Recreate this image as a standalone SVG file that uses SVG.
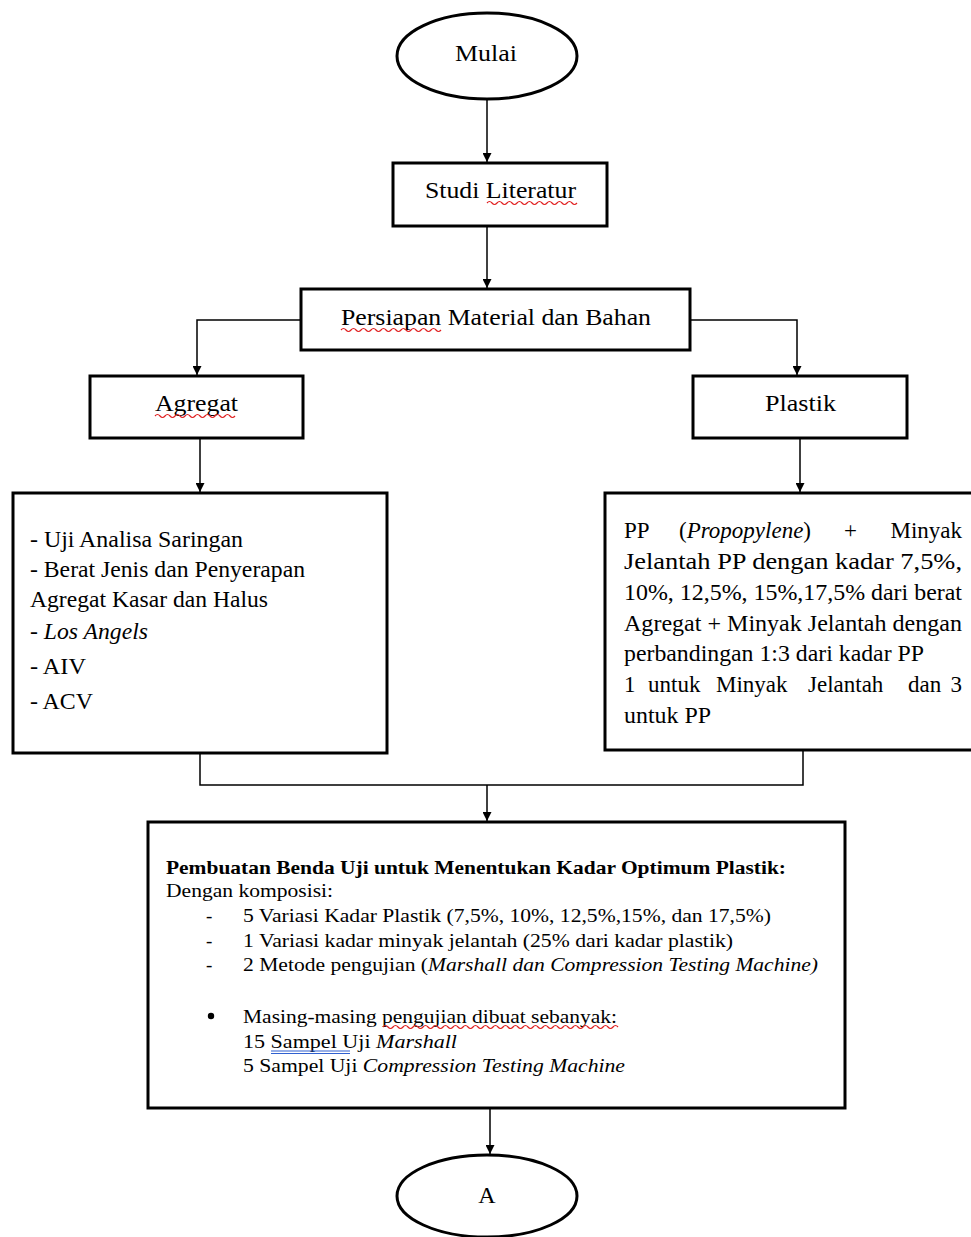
<svg xmlns="http://www.w3.org/2000/svg" width="971" height="1237" viewBox="0 0 971 1237">
<defs>
<style>
.box{fill:#fff;stroke:#000;stroke-width:3}
.ln{fill:none;stroke:#000;stroke-width:1.5}
.t{font-family:"Liberation Serif","Times New Roman","DejaVu Serif",serif;fill:#000}
.xl{font-size:24px}
.lg{font-size:23px}
.sm{font-size:19px}
.sq{fill:none;stroke:#e02020;stroke-width:1.2}
.bu{fill:none;stroke:#3060d0;stroke-width:1.2}
</style>
<marker id="ah" viewBox="0 0 10 10" refX="10" refY="5" markerWidth="9" markerHeight="9" markerUnits="userSpaceOnUse" orient="auto">
<path d="M0,0 L10,5 L0,10 z" fill="#000"/>
</marker>
</defs>
<rect width="971" height="1237" fill="#fff"/>

<g id="connectors">
<line class="ln" x1="487" y1="98" x2="487" y2="162" marker-end="url(#ah)"/>
<line class="ln" x1="487" y1="226" x2="487" y2="288" marker-end="url(#ah)"/>
<polyline class="ln" points="301,320 197,320 197,375" marker-end="url(#ah)"/>
<polyline class="ln" points="690,320 797,320 797,375" marker-end="url(#ah)"/>
<line class="ln" x1="200" y1="438" x2="200" y2="492" marker-end="url(#ah)"/>
<line class="ln" x1="800" y1="438" x2="800" y2="492" marker-end="url(#ah)"/>
<polyline class="ln" points="200,753 200,785 803,785 803,750"/>
<line class="ln" x1="487" y1="785" x2="487" y2="821" marker-end="url(#ah)"/>
<line class="ln" x1="490" y1="1108" x2="490" y2="1154" marker-end="url(#ah)"/>
</g>

<g id="mulai">
<ellipse class="box" cx="487" cy="56" rx="90" ry="43"/>
<text class="t xl" x="455" y="61" textLength="62" lengthAdjust="spacingAndGlyphs">Mulai</text>
</g>

<g id="studi">
<rect class="box" x="393" y="163" width="214" height="63"/>
<text class="t xl" x="425" y="198" textLength="151" lengthAdjust="spacingAndGlyphs">Studi Literatur</text>
<path class="sq" d="M487,203 q2.5,-3 5,0 t5,0 t5,0 t5,0 t5,0 t5,0 t5,0 t5,0 t5,0 t5,0 t5,0 t5,0 t5,0 t5,0 t5,0 t5,0 t5,0 t5,0"/>
</g>

<g id="persiapan">
<rect class="box" x="301" y="289" width="389" height="61"/>
<text class="t xl" x="341" y="325" textLength="310" lengthAdjust="spacingAndGlyphs">Persiapan Material dan Bahan</text>
<path class="sq" d="M341,330 q2.5,-3 5,0 t5,0 t5,0 t5,0 t5,0 t5,0 t5,0 t5,0 t5,0 t5,0 t5,0 t5,0 t5,0 t5,0 t5,0 t5,0 t5,0 t5,0 t5,0 t5,0"/>
</g>

<g id="agregat">
<rect class="box" x="90" y="376" width="213" height="62"/>
<text class="t xl" x="155" y="411" textLength="83" lengthAdjust="spacingAndGlyphs">Agregat</text>
<path class="sq" d="M155,416 q2.5,-3 5,0 t5,0 t5,0 t5,0 t5,0 t5,0 t5,0 t5,0 t5,0 t5,0 t5,0 t5,0 t5,0 t5,0 t5,0 t5,0"/>
</g>

<g id="plastik">
<rect class="box" x="693" y="376" width="214" height="62"/>
<text class="t xl" x="765" y="411" textLength="71" lengthAdjust="spacingAndGlyphs">Plastik</text>
</g>

<g id="uji-agregat">
<rect class="box" x="13" y="493" width="374" height="260"/>
<text class="t lg" x="30" y="547" textLength="213" lengthAdjust="spacingAndGlyphs">- Uji Analisa Saringan</text>
<text class="t lg" x="30" y="577" textLength="275" lengthAdjust="spacingAndGlyphs">- Berat Jenis dan Penyerapan</text>
<text class="t lg" x="30" y="607" textLength="238" lengthAdjust="spacingAndGlyphs">Agregat Kasar dan Halus</text>
<text class="t lg" x="30" y="639" textLength="118" lengthAdjust="spacingAndGlyphs">- <tspan font-style="italic">Los Angels</tspan></text>
<text class="t lg" x="30" y="674" textLength="56" lengthAdjust="spacingAndGlyphs">- AIV</text>
<text class="t lg" x="30" y="709" textLength="63" lengthAdjust="spacingAndGlyphs">- ACV</text>
</g>

<g id="komposisi-plastik">
<rect class="box" x="605" y="493" width="368" height="257"/>
<text class="t lg" y="538"><tspan x="624">PP</tspan><tspan x="679">(<tspan font-style="italic">Propopylene</tspan>)</tspan><tspan x="844">+</tspan><tspan x="962" text-anchor="end">Minyak</tspan></text>
<text class="t lg" x="624" y="569" textLength="338" lengthAdjust="spacingAndGlyphs">Jelantah PP dengan kadar 7,5%,</text>
<text class="t lg" x="624" y="600" textLength="338" lengthAdjust="spacingAndGlyphs">10%, 12,5%, 15%,17,5% dari berat</text>
<text class="t lg" x="624" y="631" textLength="338" lengthAdjust="spacingAndGlyphs">Agregat + Minyak Jelantah dengan</text>
<text class="t lg" x="624" y="661" textLength="300" lengthAdjust="spacingAndGlyphs">perbandingan 1:3 dari kadar PP</text>
<text class="t lg" y="692"><tspan x="624">1</tspan><tspan x="648">untuk</tspan><tspan x="716">Minyak</tspan><tspan x="808">Jelantah</tspan><tspan x="908">dan</tspan><tspan x="962" text-anchor="end">3</tspan></text>
<text class="t lg" x="624" y="723" textLength="87" lengthAdjust="spacingAndGlyphs">untuk PP</text>
</g>

<g id="pembuatan">
<rect class="box" x="148" y="822" width="697" height="286"/>
<text class="t sm" x="166" y="874" font-weight="bold" textLength="620" lengthAdjust="spacingAndGlyphs">Pembuatan Benda Uji untuk Menentukan Kadar Optimum Plastik:</text>
<text class="t sm" x="166" y="897" textLength="167" lengthAdjust="spacingAndGlyphs">Dengan komposisi:</text>
<text class="t sm" x="206" y="922">-</text>
<text class="t sm" x="243" y="922" textLength="528" lengthAdjust="spacingAndGlyphs">5 Variasi Kadar Plastik (7,5%, 10%, 12,5%,15%, dan 17,5%)</text>
<text class="t sm" x="206" y="947">-</text>
<text class="t sm" x="243" y="947" textLength="490" lengthAdjust="spacingAndGlyphs">1 Variasi kadar minyak jelantah (25% dari kadar plastik)</text>
<text class="t sm" x="206" y="971">-</text>
<text class="t sm" x="243" y="971" textLength="575" lengthAdjust="spacingAndGlyphs">2 Metode pengujian (<tspan font-style="italic">Marshall dan Compression Testing Machine)</tspan></text>
<circle cx="211" cy="1016" r="3.2" fill="#000"/>
<text class="t sm" x="243" y="1023" textLength="374" lengthAdjust="spacingAndGlyphs">Masing-masing pengujian dibuat sebanyak:</text>
<path class="sq" d="M383,1027 q2.5,-3 5,0 t5,0 t5,0 t5,0 t5,0 t5,0 t5,0 t5,0 t5,0 t5,0 t5,0 t5,0 t5,0 t5,0 t5,0 t5,0 t5,0 t5,0 t5,0 t5,0 t5,0 t5,0 t5,0 t5,0 t5,0 t5,0 t5,0 t5,0 t5,0 t5,0 t5,0 t5,0 t5,0 t5,0 t5,0 t5,0 t5,0 t5,0 t5,0 t5,0 t5,0 t5,0 t5,0 t5,0 t5,0 t5,0 t5,0"/>
<text class="t sm" x="243" y="1048" textLength="214" lengthAdjust="spacingAndGlyphs">15 Sampel  Uji <tspan font-style="italic">Marshall</tspan></text>
<path class="bu" d="M271,1051 H350 M271,1053.5 H350"/>
<text class="t sm" x="243" y="1072" textLength="382" lengthAdjust="spacingAndGlyphs">5 Sampel Uji <tspan font-style="italic">Compression Testing Machine</tspan></text>
</g>

<g id="a">
<ellipse class="box" cx="487" cy="1196" rx="90" ry="41"/>
<text class="t xl" x="487" y="1203" text-anchor="middle">A</text>
</g>
</svg>
